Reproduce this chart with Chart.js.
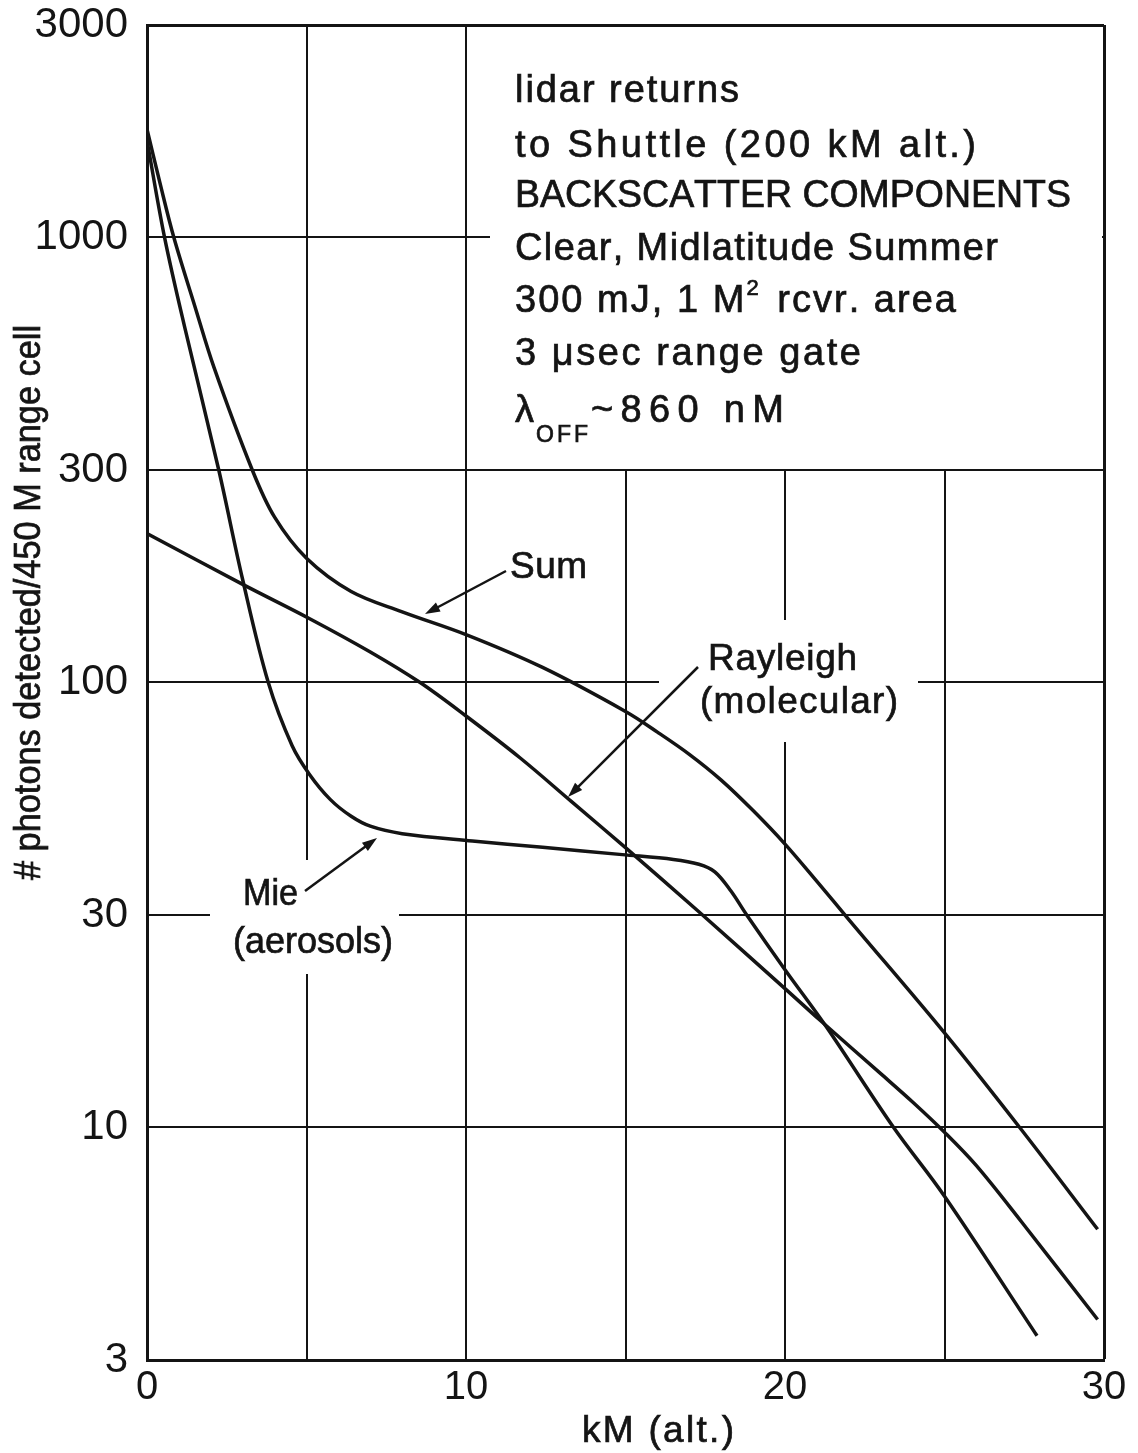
<!DOCTYPE html>
<html>
<head>
<meta charset="utf-8">
<script src="https://cdn.jsdelivr.net/npm/chart.js@4.4.1/dist/chart.umd.min.js"></script>
<style>
  html, body { margin: 0; padding: 0; background: #fff; }
  #wrap { width: 1138px; height: 1453px; }
</style>
</head>
<body>
<div id="wrap"><canvas id="lidar" width="1138" height="1453"></canvas></div>
<script>
// values (altitude in km, photons per 450 m cell)
const sumKm = [0, 0.4, 0.84, 1.5, 2.1, 3.3, 4.0, 5.0, 6.4, 8.0, 10.0, 12.4, 15.0, 16.0, 17.0, 18.0, 19.0, 20.0, 21.0, 22.0, 25.0, 27.4, 29.8];
const sumCounts = [1750, 1330, 1000, 700, 510, 300, 235, 190, 160, 144, 128, 108, 86, 77.3, 68.9, 60.3, 51.5, 43.3, 35.7, 29.3, 16.3, 9.9, 5.9];

const mieKm = [0, 0.55, 1.2, 2.25, 3.0, 3.8, 4.55, 5.1, 5.75, 6.4, 7.0, 8.0, 10.2, 12.4, 14.9, 16.5, 17.3, 17.8, 18.3, 18.8, 20.0, 21.3, 23.4, 25.0, 27.9];
const mieCounts = [1650, 1000, 620, 300, 170, 100, 72, 62, 54.5, 50, 47.5, 45.7, 44, 42.6, 41, 40, 39, 37.5, 34, 30, 22.6, 16.8, 10, 7.0, 3.4];

const rayKm = [0, 3.0, 5.1, 7.0, 8.55, 10.0, 11.7, 13.3, 15.0, 17.3, 20.0, 21.1, 23.0, 24.0, 25.0, 26.0, 27.4, 29.8];
const rayCounts = [216, 166, 139, 117, 100, 84, 67.6, 54, 42.5, 30.5, 20.5, 17.4, 13.2, 11.4, 9.75, 8.2, 6.15, 3.7];

const yTicks = [3, 10, 30, 100, 300, 1000, 3000];
const xTickLabels = [0, 10, 20, 30];

const FONT = '"Liberation Sans", Arial, sans-serif';
const INK = '#141414';

const toPoints = (xs, ys) => xs.map((x, i) => ({ x: x, y: ys[i] }));

// draw text char by char so it fills a given width (the lettering is wide-spaced)
// seg = [text, size, dy, fixedExtra]
const fitText = (ctx, segs, x, y, width) => {
    let nat = 0, fixed = 0, n = 0;
    for (const s of segs) {
        ctx.font = `${s[1]}px ${FONT}`;
        for (const ch of s[0]) {
            const w = ctx.measureText(ch).width;
            if (s[3] !== undefined) fixed += w + s[3];
            else { nat += w; n++; }
        }
    }
    let extra = 0, sx = 1;
    const room = width - fixed;
    if (room > nat) extra = (room - nat) / Math.max(1, n - 1);
    else sx = width / (nat + fixed);
    ctx.save();
    ctx.translate(x, y);
    ctx.scale(sx, 1);
    ctx.lineWidth = 0.7;
    let cx = 0;
    for (const s of segs) {
        ctx.font = `${s[1]}px ${FONT}`;
        for (const ch of s[0]) {
            ctx.fillText(ch, cx, s[2] || 0);
            ctx.strokeText(ch, cx, s[2] || 0);
            cx += ctx.measureText(ch).width + (s[3] !== undefined ? s[3] : extra);
        }
    }
    ctx.restore();
};

const arrow = (ctx, x1, y1, x2, y2) => {
    const a = Math.atan2(y2 - y1, x2 - x1);
    ctx.beginPath();
    ctx.moveTo(x1, y1);
    ctx.lineTo(x2 - 8 * Math.cos(a), y2 - 8 * Math.sin(a));
    ctx.stroke();
    ctx.beginPath();
    ctx.moveTo(x2, y2);
    ctx.lineTo(x2 - 15 * Math.cos(a) + 5 * Math.sin(a), y2 - 15 * Math.sin(a) - 5 * Math.cos(a));
    ctx.lineTo(x2 - 15 * Math.cos(a) - 5 * Math.sin(a), y2 - 15 * Math.sin(a) + 5 * Math.cos(a));
    ctx.closePath();
    ctx.fill();
};

// text block, top right
const infoLines = [
    { y: 102, w: 224, segs: [['lidar returns', 38]] },
    { y: 157, w: 461, segs: [['to Shuttle (200 kM alt.)', 38]] },
    { y: 207, w: 556, segs: [['BACKSCATTER COMPONENTS', 38]] },
    { y: 260, w: 483, segs: [['Clear, Midlatitude Summer', 38]] },
    { y: 312, w: 441, segs: [['300 mJ, 1 M', 38], ['2', 22, -17, 6], [' rcvr. area', 38]] },
    { y: 365, w: 346, segs: [['3 \u03BCsec range gate', 38]] },
    { y: 422, w: 269, segs: [['\u03BB', 38, 0, 2], ['OFF', 23, 20, 3], ['~860 nM', 38]] }
];

const curveLabels = [
    { x: 510, y: 578, w: 77, text: 'Sum' },
    { x: 708, y: 670, w: 149, text: 'Rayleigh' },
    { x: 700, y: 713, w: 198, text: '(molecular)' },
    { x: 243, y: 905, w: 55, text: 'Mie' },
    { x: 233, y: 953, w: 160, text: '(aerosols)' }
];

// white boxes where the grid is interrupted by lettering
const gridGaps = [
    [490, 27, 1102, 469],
    [659, 620, 918, 742],
    [210, 860, 399, 974]
];

const pointers = [
    [506, 571, 425, 614],
    [698, 667, 568, 797],
    [305, 891, 377, 838]
];

const paperPlugin = {
    id: 'paper',
    beforeDraw: (chart) => {
        const ctx = chart.ctx;
        ctx.save();
        ctx.fillStyle = '#fff';
        ctx.fillRect(0, 0, chart.width, chart.height);
        ctx.restore();
    },
    beforeDatasetsDraw: (chart) => {
        const ctx = chart.ctx;
        ctx.save();
        ctx.fillStyle = '#fff';
        for (const g of gridGaps) ctx.fillRect(g[0], g[1], g[2] - g[0], g[3] - g[1]);
        ctx.restore();
    },
    afterDraw: (chart) => {
        const ctx = chart.ctx;
        ctx.save();
        ctx.fillStyle = INK;
        ctx.strokeStyle = INK;
        ctx.textBaseline = 'alphabetic';
        ctx.textAlign = 'left';
        for (const l of infoLines) fitText(ctx, l.segs, 515, l.y, l.w);
        for (const l of curveLabels) fitText(ctx, [[l.text, 37]], l.x, l.y, l.w);
        ctx.lineWidth = 2.5;
        for (const p of pointers) arrow(ctx, p[0], p[1], p[2], p[3]);

        // axis titles
        fitText(ctx, [['kM (alt.)', 37]], 582, 1442, 152);
        ctx.translate(40, 880);
        ctx.rotate(-Math.PI / 2);
        fitText(ctx, [['# photons detected/450 M range cell', 36]], 0, 0, 555);
        ctx.restore();
    }
};

const lineStyle = {
    borderColor: INK,
    borderWidth: 3.5,
    pointRadius: 0,
    fill: false,
    tension: 0.35
};

new Chart(document.querySelector('#lidar'), {
    type: 'line',
    data: {
        datasets: [
            Object.assign({ label: 'Sum', data: toPoints(sumKm, sumCounts) }, lineStyle),
            Object.assign({ label: 'Rayleigh (molecular)', data: toPoints(rayKm, rayCounts) }, lineStyle),
            Object.assign({ label: 'Mie (aerosols)', data: toPoints(mieKm, mieCounts) }, lineStyle)
        ]
    },
    options: {
        responsive: false,
        animation: false,
        layout: { padding: { left: 0, top: 25, right: 34, bottom: 0 } },
        plugins: {
            legend: { display: false },
            tooltip: { enabled: false }
        },
        scales: {
            x: {
                type: 'linear',
                min: 0,
                max: 30,
                afterFit: (s) => { s.height = 93; s.paddingLeft = 0; s.paddingRight = 0; },
                ticks: {
                    stepSize: 5,
                    autoSkip: false,
                    maxRotation: 0,
                    padding: 4,
                    color: INK,
                    font: { family: FONT, size: 40 },
                    callback: (v) => xTickLabels.includes(v) ? String(v) : ''
                },
                grid: {
                    color: INK,
                    drawTicks: false,
                    lineWidth: (c) => (c.tick && c.tick.value === 30) ? 3 : 2
                },
                border: { color: INK, width: 3 }
            },
            y: {
                type: 'logarithmic',
                min: 3,
                max: 3000,
                afterFit: (s) => { s.width = 147; s.paddingTop = 0; s.paddingBottom = 0; },
                afterBuildTicks: (s) => { s.ticks = yTicks.map(v => ({ value: v })); },
                ticks: {
                    padding: 19,
                    color: INK,
                    font: { family: FONT, size: 42 },
                    callback: (v) => String(v)
                },
                grid: {
                    color: INK,
                    drawTicks: false,
                    lineWidth: (c) => (c.tick && c.tick.value === 3000) ? 3 : 2
                },
                border: { color: INK, width: 3 }
            }
        }
    },
    plugins: [paperPlugin]
});
</script>
</body>
</html>
